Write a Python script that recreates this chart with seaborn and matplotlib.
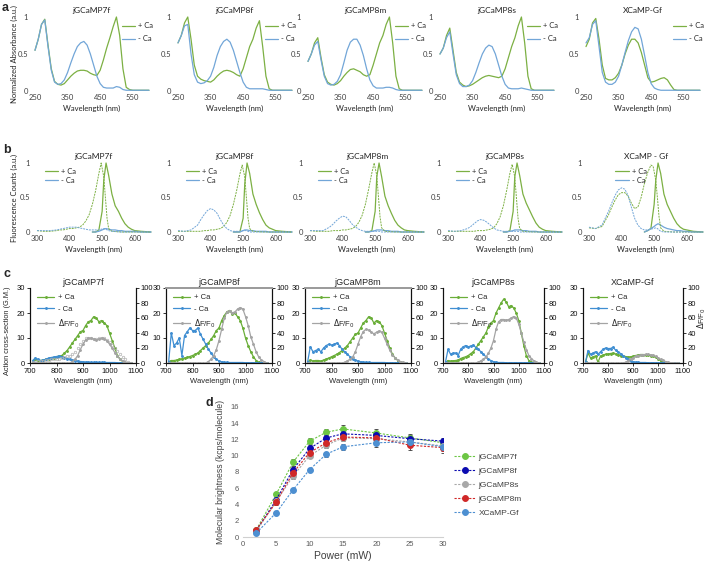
import matplotlib
matplotlib.use('Agg')
import matplotlib.pyplot as plt
import seaborn as sns

W, H = 707, 565

names = ['jGCaMP7f', 'jGCaMP8f', 'jGCaMP8m', 'jGCaMP8s', 'XCaMP-Gf']
names_b = ['jGCaMP7f', 'jGCaMP8f', 'jGCaMP8m', 'jGCaMP8s', 'XCaMP - Gf']

# ---- a: absorbance ----
abs_wl = list(range(250, 601, 10))
tail = [0.01] * 6
abs_plus = {
    'jGCaMP7f': [0.55, 0.70, 0.90, 0.97, 0.62, 0.30, 0.13, 0.09, 0.08, 0.10, 0.15, 0.20, 0.24, 0.27, 0.28, 0.28, 0.27, 0.24,
                 0.22, 0.21, 0.28, 0.42, 0.58, 0.72, 0.87, 1.00, 0.75, 0.30, 0.05, 0.02] + tail,
    'jGCaMP8f': [0.65, 0.75, 0.92, 1.00, 0.70, 0.35, 0.20, 0.16, 0.14, 0.13, 0.12, 0.15, 0.20, 0.24, 0.27, 0.28, 0.27, 0.25,
                 0.22, 0.20, 0.30, 0.45, 0.60, 0.70, 0.85, 0.95, 0.60, 0.20, 0.03, 0.01] + tail,
    'jGCaMP8m': [0.40, 0.50, 0.65, 0.72, 0.45, 0.22, 0.12, 0.09, 0.08, 0.10, 0.14, 0.20, 0.25, 0.29, 0.30, 0.28, 0.26, 0.22,
                 0.20, 0.22, 0.35, 0.50, 0.65, 0.75, 0.90, 1.00, 0.65, 0.20, 0.03, 0.01] + tail,
    'jGCaMP8s': [0.50, 0.58, 0.75, 0.85, 0.55, 0.25, 0.12, 0.08, 0.06, 0.07, 0.09, 0.12, 0.15, 0.18, 0.20, 0.21, 0.20, 0.19,
                 0.18, 0.20, 0.30, 0.45, 0.60, 0.72, 0.88, 1.00, 0.65, 0.20, 0.03, 0.01] + tail,
    'XCaMP-Gf': [0.60, 0.70, 0.92, 0.98, 0.70, 0.35, 0.17, 0.15, 0.15, 0.18, 0.24, 0.35, 0.50, 0.62, 0.70, 0.70, 0.65, 0.52,
                 0.35, 0.18, 0.12, 0.13, 0.15, 0.17, 0.18, 0.15, 0.08, 0.02, 0.01, 0.01] + tail,
}
abs_minus = {
    'jGCaMP7f': [0.55, 0.70, 0.90, 0.96, 0.60, 0.28, 0.12, 0.09, 0.10, 0.15, 0.25, 0.38, 0.50, 0.60, 0.65, 0.67, 0.62, 0.50,
                 0.35, 0.20, 0.10, 0.05, 0.04, 0.04, 0.04, 0.06, 0.05, 0.02, 0.01, 0.01] + tail,
    'jGCaMP8f': [0.65, 0.75, 0.88, 0.90, 0.50, 0.22, 0.12, 0.10, 0.11, 0.14, 0.20, 0.32, 0.48, 0.60, 0.67, 0.70, 0.66, 0.55,
                 0.40, 0.25, 0.12, 0.05, 0.03, 0.03, 0.03, 0.03, 0.03, 0.02, 0.01, 0.01] + tail,
    'jGCaMP8m': [0.40, 0.50, 0.62, 0.67, 0.42, 0.20, 0.10, 0.08, 0.09, 0.13, 0.22, 0.38, 0.55, 0.66, 0.70, 0.70, 0.62, 0.48,
                 0.30, 0.15, 0.07, 0.04, 0.04, 0.04, 0.05, 0.05, 0.04, 0.02, 0.01, 0.01] + tail,
    'jGCaMP8s': [0.50, 0.58, 0.72, 0.80, 0.50, 0.22, 0.10, 0.06, 0.06, 0.08, 0.14, 0.25, 0.38, 0.50, 0.58, 0.62, 0.60, 0.50,
                 0.35, 0.20, 0.09, 0.04, 0.03, 0.03, 0.03, 0.04, 0.03, 0.02, 0.01, 0.01] + tail,
    'XCaMP-Gf': [0.65, 0.72, 0.90, 0.95, 0.60, 0.25, 0.12, 0.09, 0.09, 0.12, 0.20, 0.35, 0.52, 0.68, 0.80, 0.86, 0.84, 0.70,
                 0.48, 0.25, 0.10, 0.04, 0.02, 0.01, 0.01, 0.01, 0.01, 0.01, 0.01, 0.01] + tail,
}

# ---- b: fluorescence excitation (dashed) / emission (solid) ----
ex_wl = [300, 320, 340, 360, 370, 380, 390, 400, 410, 420, 430, 440, 450, 460, 470, 480, 490, 497, 505, 510, 515, 520,
         530, 560, 600, 650]
em_wl = [470, 480, 490, 500, 505, 512, 520, 530, 540, 550, 560, 570, 580, 590, 600, 620, 650]
ex_plus = {
    'jGCaMP7f': [0.02, 0.01, 0.01, 0.02, 0.03, 0.03, 0.04, 0.05, 0.05, 0.06, 0.07, 0.10, 0.16, 0.25, 0.40, 0.60, 0.85, 1.00,
                 0.80, 0.50, 0.20, 0.05, 0.01, 0.00, 0.00, 0.00],
    'jGCaMP8f': [0.01, 0.01, 0.01, 0.01, 0.01, 0.02, 0.02, 0.03, 0.03, 0.04, 0.05, 0.08, 0.14, 0.24, 0.40, 0.60, 0.84, 0.97,
                 0.80, 0.50, 0.20, 0.05, 0.01, 0.00, 0.00, 0.00],
    'jGCaMP8m': [0.02, 0.01, 0.01, 0.01, 0.02, 0.02, 0.02, 0.03, 0.03, 0.04, 0.05, 0.08, 0.14, 0.24, 0.40, 0.62, 0.86, 1.00,
                 0.82, 0.52, 0.22, 0.06, 0.01, 0.00, 0.00, 0.00],
    'jGCaMP8s': [0.01, 0.01, 0.01, 0.01, 0.01, 0.01, 0.02, 0.02, 0.02, 0.03, 0.04, 0.06, 0.12, 0.22, 0.38, 0.60, 0.85, 0.98,
                 0.80, 0.50, 0.20, 0.05, 0.01, 0.00, 0.00, 0.00],
    'XCaMP-Gf': [0.06, 0.05, 0.08, 0.25, 0.36, 0.46, 0.54, 0.57, 0.57, 0.52, 0.42, 0.34, 0.36, 0.50, 0.70, 0.86, 0.97, 0.95,
                 0.75, 0.50, 0.22, 0.06, 0.01, 0.00, 0.00, 0.00],
}
ex_minus = {
    'jGCaMP7f': [0.02, 0.02, 0.02, 0.03, 0.04, 0.05, 0.06, 0.07, 0.07, 0.07, 0.06, 0.05, 0.04, 0.03, 0.03, 0.03, 0.03, 0.04,
                 0.05, 0.05, 0.03, 0.02, 0.01, 0.00, 0.00, 0.00],
    'jGCaMP8f': [0.02, 0.01, 0.03, 0.10, 0.18, 0.25, 0.31, 0.34, 0.32, 0.27, 0.18, 0.10, 0.05, 0.02, 0.01, 0.01, 0.01, 0.02,
                 0.02, 0.02, 0.01, 0.00, 0.00, 0.00, 0.00, 0.00],
    'jGCaMP8m': [0.02, 0.02, 0.02, 0.07, 0.11, 0.16, 0.20, 0.23, 0.22, 0.17, 0.11, 0.07, 0.04, 0.02, 0.01, 0.01, 0.01, 0.01,
                 0.01, 0.01, 0.01, 0.00, 0.00, 0.00, 0.00, 0.00],
    'jGCaMP8s': [0.02, 0.01, 0.02, 0.05, 0.08, 0.12, 0.16, 0.18, 0.17, 0.14, 0.10, 0.06, 0.03, 0.02, 0.01, 0.01, 0.01, 0.01,
                 0.01, 0.01, 0.01, 0.00, 0.00, 0.00, 0.00, 0.00],
    'XCaMP-Gf': [0.07, 0.05, 0.10, 0.30, 0.42, 0.53, 0.61, 0.64, 0.62, 0.53, 0.36, 0.20, 0.10, 0.05, 0.03, 0.03, 0.04, 0.05,
                 0.06, 0.05, 0.03, 0.01, 0.00, 0.00, 0.00, 0.00],
}
em_plus = {
    'jGCaMP7f': [0.00, 0.00, 0.03, 0.30, 0.75, 1.00, 0.82, 0.55, 0.38, 0.30, 0.20, 0.12, 0.07, 0.04, 0.02, 0.01, 0.00],
    'jGCaMP8f': [0.00, 0.00, 0.00, 0.20, 0.70, 1.00, 0.85, 0.55, 0.40, 0.28, 0.18, 0.10, 0.06, 0.04, 0.02, 0.01, 0.00],
    'jGCaMP8m': [0.00, 0.00, 0.02, 0.30, 0.80, 1.00, 0.80, 0.52, 0.38, 0.27, 0.17, 0.10, 0.06, 0.03, 0.02, 0.01, 0.00],
    'jGCaMP8s': [0.00, 0.00, 0.02, 0.30, 0.80, 1.00, 0.82, 0.55, 0.42, 0.32, 0.22, 0.13, 0.07, 0.04, 0.02, 0.01, 0.00],
    'XCaMP-Gf': [0.00, 0.02, 0.05, 0.40, 0.75, 1.00, 0.85, 0.55, 0.40, 0.30, 0.20, 0.12, 0.07, 0.04, 0.03, 0.01, 0.00],
}
em_minus = {
    'jGCaMP7f': [0.00, 0.00, 0.01, 0.03, 0.04, 0.05, 0.04, 0.03, 0.03, 0.02, 0.02, 0.01, 0.01, 0.01, 0.01, 0.00, 0.00],
    'jGCaMP8f': [0.00, 0.00, 0.00, 0.02, 0.03, 0.03, 0.02, 0.02, 0.01, 0.01, 0.01, 0.01, 0.00, 0.00, 0.00, 0.00, 0.00],
    'jGCaMP8m': [0.00, 0.00, 0.01, 0.02, 0.03, 0.03, 0.03, 0.02, 0.02, 0.01, 0.01, 0.01, 0.00, 0.00, 0.00, 0.00, 0.00],
    'jGCaMP8s': [0.00, 0.00, 0.01, 0.02, 0.03, 0.03, 0.03, 0.02, 0.02, 0.01, 0.01, 0.01, 0.00, 0.00, 0.00, 0.00, 0.00],
    'XCaMP-Gf': [0.00, 0.02, 0.05, 0.08, 0.10, 0.12, 0.10, 0.07, 0.05, 0.04, 0.03, 0.02, 0.02, 0.01, 0.01, 0.00, 0.00],
}

# ---- c: two-photon action cross-section (G.M.) and dF/F0 (%) ----
tp_wl = list(range(710, 1081, 10))
tp_plus = {
    'jGCaMP7f': [0.5, 1.5, 1.0, 1.0, 1.2, 1.5, 1.8, 2.0, 2.2, 2.5, 2.8, 3.0, 4.0, 5.0, 6.5, 8.0, 9.5, 11, 12.5, 13,
                 15, 16.5, 17, 18.5, 18, 16.5, 17, 16, 15, 12, 9, 6, 3, 1.5, 0.5, 0.2, 0.1, 0],
    'jGCaMP8f': [0.5, 1.0, 1.0, 1.2, 1.5, 1.7, 2.0, 2.3, 2.6, 3.0, 3.5, 4.0, 5.0, 6.0, 7.0, 8.0, 9.5, 11, 13, 14,
                 17, 19, 20.5, 21, 19.5, 20, 18.5, 17, 14, 10, 7, 4.5, 2.5, 1.0, 0.3, 0.1, 0, 0],
    'jGCaMP8m': [0.5, 1.2, 0.8, 1.0, 1.0, 0.8, 1.2, 1.6, 2.0, 2.5, 3.0, 3.5, 4.2, 5.0, 6.0, 7.0, 8.5, 10, 11.5, 12,
                 14, 16, 17, 18.5, 18, 16, 17, 16.5, 15, 12, 9, 6, 3.5, 2, 1, 0.5, 0.2, 0],
    'jGCaMP8s': [0.3, 1.0, 0.8, 0.9, 1.0, 1.2, 1.8, 2.2, 2.5, 3.0, 3.8, 4.5, 6.0, 7.5, 9, 10.5, 12, 14.5, 16, 17,
                 20, 22, 24, 25.5, 24.5, 22.5, 23, 22, 20, 17, 12, 7, 3, 1, 0.3, 0.1, 0, 0],
    'XCaMP-Gf': [0.3, 4.0, 2.0, 2.5, 2.8, 0.3, 2.8, 3.2, 3.5, 3.6, 3.8, 4.0, 3.6, 3.4, 3.0, 2.8, 2.6, 2.4, 2.5, 2.7,
                 3.0, 3.2, 3.4, 3.4, 3.3, 3.2, 3.0, 2.8, 2.3, 1.6, 1.0, 0.5, 0.2, 0.1, 0, 0, 0, 0],
}
tp_minus = {
    'jGCaMP7f': [1.0, 2.0, 1.5, 1.0, 1.2, 1.5, 2.0, 2.2, 2.4, 2.6, 2.8, 2.5, 2.2, 1.8, 1.5, 1.2, 1.0, 0.8, 0.6, 0.5,
                 0.4, 0.4, 0.3, 0.3, 0.3, 0.3, 0.3, 0.3, 0.2, 0.2, 0.2, 0.2, 0.1, 0.1, 0.1, 0.1, 0.0, 0.0],
    'jGCaMP8f': [0.5, 12, 7, 8, 10, 3, 11, 12.5, 14, 13, 13, 14, 11.5, 9.5, 7.5, 5.5, 4.0, 2.5, 1.5, 0.8,
                 0.5, 0.3, 0.3, 0.2, 0.2, 0.2, 0.2, 0.2, 0.2, 0.1, 0.1, 0.1, 0.1, 0.1, 0.1, 0.1, 0.1, 0.1],
    'jGCaMP8m': [0.5, 6.5, 4.5, 5, 5.5, 4.5, 6, 7, 7.5, 7.2, 7.5, 8, 7, 5.5, 4.5, 3.5, 2.5, 1.8, 1.2, 0.8,
                 0.5, 0.4, 0.3, 0.3, 0.2, 0.2, 0.2, 0.2, 0.2, 0.2, 0.1, 0.1, 0.1, 0.1, 0.1, 0.1, 0.1, 0.1],
    'jGCaMP8s': [0.5, 5.5, 3.5, 4, 4, 3, 5.5, 6.5, 7, 6.5, 6.8, 7.2, 6.2, 5.5, 4.5, 3.5, 2.5, 1.5, 1.0, 0.5,
                 0.3, 0.2, 0.2, 0.2, 0.1, 0.1, 0.1, 0.1, 0.1, 0.1, 0.1, 0.1, 0.1, 0.1, 0.1, 0.1, 0.1, 0.1],
    'XCaMP-Gf': [0.3, 5.0, 3.5, 4.0, 4.5, 3.5, 4.5, 5.5, 6.0, 5.8, 5.8, 6.3, 5.2, 4.5, 3.8, 3.0, 2.2, 1.6, 1.0, 0.6,
                 0.4, 0.3, 0.2, 0.2, 0.2, 0.1, 0.1, 0.1, 0.1, 0.1, 0.1, 0.1, 0.1, 0.1, 0.1, 0.1, 0.1, 0.1],
}
tp_dff = {
    'jGCaMP7f': [0] * 15 + [2, 5, 10, 18, 25, 31, 33, 33, 32, 31, 32, 33, 32, 30, 25, 20, 14, 9, 5, 3, 1, 0, 0],
    'jGCaMP8f': [0] * 15 + [2, 5, 10, 18, 30, 45, 60, 68, 70, 67, 68, 72, 74, 72, 62, 50, 35, 25, 15, 8, 4, 2, 0],
    'jGCaMP8m': [0] * 14 + [1, 3, 5, 8, 15, 25, 35, 42, 45, 44, 41, 39, 41, 43, 41, 33, 25, 17, 11, 7, 4, 2, 1, 0],
    'jGCaMP8s': [0] * 13 + [1, 3, 5, 8, 13, 20, 30, 45, 55, 58, 58, 57, 58, 60, 62, 60, 52, 40, 28, 18, 10, 6, 3,
                            1, 0],
    'XCaMP-Gf': [0] * 16 + [1, 3, 5, 7, 9, 10, 11, 11, 11.5, 11.5, 11, 10.5, 9, 7, 5, 3.5, 2, 1, 0.5, 0.2, 0, 0],
}
# second dF/F0 trace (open grey circles) only in the jGCaMP7f panel
dff_7f_repeat = [2, 2, 3, 3, 3, 4, 4, 5, 5, 5, 6, 7, 8, 9, 10, 12, 15, 20, 26, 30, 33, 34, 33, 32, 32, 33, 34, 33,
                 31, 28, 24, 20, 16, 12, 8, 5, 2, 0]

# ---- d: molecular brightness ----
power = [2, 5, 7.5, 10, 12.5, 15, 20, 25, 30]
d_names = ['jGCaMP7f', 'jGCaMP8f', 'jGCaMP8s', 'jGCaMP8m', 'XCaMP-Gf']
brightness = {
    'jGCaMP7f': [0.9, 5.3, 9.2, 11.8, 12.9, 13.3, 12.8, 12.2, 11.6],
    'jGCaMP8f': [0.8, 4.6, 8.3, 10.9, 12.2, 12.7, 12.5, 12.1, 11.8],
    'jGCaMP8s': [0.7, 4.4, 7.5, 10.0, 11.3, 12.2, 12.1, 11.7, 11.2],
    'jGCaMP8m': [0.9, 4.3, 7.9, 10.4, 11.6, 12.3, 12.2, 11.3, 11.0],
    'XCaMP-Gf': [0.5, 3.0, 5.8, 8.3, 10.2, 11.1, 11.6, 11.7, 11.1],
}
brightness_err = {
    'jGCaMP7f': [0.2, 0.3, 0.4, 0.4, 0.4, 0.5, 0.5, 0.5, 0.4],
    'jGCaMP8f': [0.2, 0.3, 0.3, 0.4, 0.4, 0.4, 0.4, 0.4, 0.4],
    'jGCaMP8s': [0.2, 0.3, 0.3, 0.3, 0.4, 0.4, 0.4, 0.4, 0.4],
    'jGCaMP8m': [0.2, 0.3, 0.3, 0.3, 0.4, 0.4, 0.5, 0.6, 0.6],
    'XCaMP-Gf': [0.1, 0.2, 0.2, 0.2, 0.3, 0.4, 0.5, 0.5, 0.5],
}
d_colors = {'jGCaMP7f': '#6cc644', 'jGCaMP8f': '#0b0bb0', 'jGCaMP8s': '#a8a8a8',
            'jGCaMP8m': '#d02828', 'XCaMP-Gf': '#4d8fd1'}

GREEN = '#7cb043'
BLUE = '#72a6d8'
C_GREEN = '#6aae38'
C_BLUE = '#3f8ed2'
C_GRAY = '#a4a4a4'
TEXT = '#404040'


def px_axes(fig, left, top, width, height):
    return fig.add_axes([left / W, 1 - (top + height) / H, width / W, height / H])


def excel_style(ax, family='Lato'):
    sns.despine(ax=ax, left=True, bottom=True)
    ax.tick_params(length=0, labelsize=5.5, pad=2, colors=TEXT)
    for t in ax.get_xticklabels() + ax.get_yticklabels():
        t.set_family(family)


sns.set_theme(style='white')
plt.rcParams['font.family'] = ['Liberation Sans', 'DejaVu Sans']
fig = plt.figure(figsize=(W / 100, H / 100), dpi=100)

# row a
a_left = [35, 178, 308, 440, 586]
for i, name in enumerate(names):
    ax = px_axes(fig, a_left[i], 17, 114, 74)
    sns.lineplot(x=abs_wl, y=abs_plus[name], ax=ax, color=GREEN, lw=0.9, label='+ Ca')
    sns.lineplot(x=abs_wl, y=abs_minus[name], ax=ax, color=BLUE, lw=0.9, label='- Ca')
    ax.set_xlim(250, 600)
    ax.set_ylim(0, 1)
    ax.set_xticks([250, 350, 450, 550])
    ax.set_yticks([0, 0.5, 1])
    ax.set_yticklabels(['0', '0.5', '1'])
    excel_style(ax)
    ax.tick_params(axis='y', pad=5)
    ax.set_title(name, fontsize=6, pad=3, family='Lato', color='#222222')
    ax.set_xlabel('Wavelength (nm)', fontsize=5.5, labelpad=3, family='Lato', color='#222222')
    ax.set_ylabel('')
    ax.legend(loc='upper left', bbox_to_anchor=(0.74, 0.97), frameon=False,
              handlelength=1.6, handletextpad=0.4, labelspacing=0.8, borderaxespad=0,
              prop={'family': 'Lato', 'size': 5.5})
    for ln in ax.get_lines():
        ln.set_clip_on(False)

# row b
b_left = [37, 178, 310, 448, 589]
for i, name in enumerate(names):
    ax = px_axes(fig, b_left[i], 163, 114, 69)
    sns.lineplot(x=em_wl, y=em_plus[name], ax=ax, color=GREEN, lw=0.9, label='+ Ca')
    sns.lineplot(x=em_wl, y=em_minus[name], ax=ax, color=BLUE, lw=0.9, label='- Ca')
    sns.lineplot(x=ex_wl, y=ex_plus[name], ax=ax, color=GREEN, lw=0.7, linestyle=(0, (2, 1)))
    sns.lineplot(x=ex_wl, y=ex_minus[name], ax=ax, color=BLUE, lw=0.7, linestyle=(0, (2, 1)))
    ax.set_xlim(300, 650)
    ax.set_ylim(0, 1)
    ax.set_xticks([300, 400, 500, 600])
    ax.set_yticks([0, 0.5, 1])
    ax.set_yticklabels(['0', '0.5', '1'])
    excel_style(ax)
    ax.tick_params(axis='y', pad=5)
    ax.set_title(names_b[i], fontsize=6, pad=3, family='Lato', color='#222222')
    ax.set_xlabel('Wavelength (nm)', fontsize=5.5, labelpad=3, family='Lato', color='#222222')
    ax.set_ylabel('')
    anchor_x = 0.2 if i == 4 else 0.04
    ax.legend(loc='upper left', bbox_to_anchor=(anchor_x, 0.97), frameon=False,
              handlelength=1.8, handletextpad=0.4, labelspacing=0.2, borderaxespad=0,
              prop={'family': 'Lato', 'size': 5.5})
    for ln in ax.get_lines():
        ln.set_clip_on(False)

# row c
c_left = [30, 166, 305, 443, 583]
c_width = [106, 106, 106, 101, 100]
for i, name in enumerate(names):
    ax = px_axes(fig, c_left[i], 288, c_width[i], 75)
    ax2 = ax.twinx()
    sns.lineplot(x=tp_wl, y=tp_plus[name], ax=ax, color=C_GREEN, lw=0.9, marker='o', ms=1.3,
                 mec=C_GREEN, label='+ Ca')
    sns.lineplot(x=tp_wl, y=tp_minus[name], ax=ax, color=C_BLUE, lw=0.9, marker='o', ms=1.3,
                 mec=C_BLUE, label='- Ca')
    if name == 'jGCaMP7f':
        sns.lineplot(x=tp_wl, y=dff_7f_repeat, ax=ax2, color='#bdbdbd', lw=0, marker='o', ms=1.8,
                     mfc='none', mec='#b0b0b0', mew=0.5)
    sns.lineplot(x=tp_wl, y=tp_dff[name], ax=ax2, color=C_GRAY, lw=0.9, marker='o', ms=1.3,
                 mec=C_GRAY, label=r'$\Delta$F/F$_0$')
    ax.set_xlim(700, 1100)
    ax.set_ylim(0, 30)
    ax2.set_ylim(0, 100)
    ax.set_xticks([700, 800, 900, 1000, 1100])
    ax.set_yticks([0, 10, 20, 30])
    ax2.set_yticks([0, 20, 40, 60, 80, 100])
    for a in (ax, ax2):
        a.grid(False)
        for side in ('left', 'right', 'bottom'):
            a.spines[side].set_color('#111111')
            a.spines[side].set_linewidth(0.8)
        a.spines['top'].set_visible(False)
        a.set_ylabel('')
    if name in ('jGCaMP8f', 'jGCaMP8m'):
        ax2.spines['top'].set_visible(True)
        ax2.spines['top'].set_color('#9a9a9a')
        ax2.spines['top'].set_linewidth(1.4)
    ax.tick_params(axis='both', direction='out', length=2, width=0.6, labelsize=5.5, pad=1.5,
                   colors='#111111', left=True, bottom=True)
    ax2.tick_params(axis='y', direction='out', length=2, width=0.6, labelsize=5.5, pad=1.5,
                    colors='#111111', right=True)
    ax.set_title(name, fontsize=6.5, pad=2)
    ax.set_xlabel('Wavelength (nm)', fontsize=5.5, labelpad=2)
    h1, l1 = ax.get_legend_handles_labels()
    h2, l2 = ax2.get_legend_handles_labels()
    if ax2.get_legend():
        ax2.get_legend().remove()
    ax.legend(h1 + h2, l1 + l2, loc='upper left', bbox_to_anchor=(0.04, 0.96), frameon=False,
              fontsize=5.5, handlelength=2.2, handletextpad=0.5, labelspacing=0.55, borderaxespad=0)

# row d
ax = px_axes(fig, 243, 407, 200, 130)
for name in d_names:
    col = d_colors[name]
    ax.errorbar(power, brightness[name], yerr=brightness_err[name], fmt='none', ecolor='#3a3a3a',
                elinewidth=0.6, capsize=1.5, capthick=0.6, zorder=1)
    sns.lineplot(x=power, y=brightness[name], ax=ax, color=col, lw=0.8, linestyle=(0, (2, 1.3)),
                 marker='o', ms=4.2, mec=col, label=name, zorder=3)
ax.set_xlim(0, 30)
ax.set_ylim(0, 16)
ax.set_xticks(range(0, 31, 5))
ax.set_yticks(range(0, 17, 2))
sns.despine(ax=ax, left=True)
ax.spines['bottom'].set_color('#d0d0d0')
ax.spines['bottom'].set_linewidth(0.8)
ax.tick_params(length=0, labelsize=5.5, pad=3, colors='#595959')
ax.set_xlabel('Power (mW)', fontsize=7.5, labelpad=2, color='#404040')
ax.set_ylabel('Molecular brightness (kcps/molecule)', fontsize=6.2, labelpad=4, color='#404040')
ax.legend(loc='center left', bbox_to_anchor=(1.04, 0.4), frameon=False, fontsize=6,
          handlelength=2.6, handletextpad=0.3, labelspacing=0.75, borderaxespad=0,
          labelcolor='#404040')

# labels
fig.text(2 / W, 1 - 8 / H, 'a', fontsize=9, fontweight='bold', va='center', ha='left')
fig.text(3 / W, 1 - 150 / H, 'b', fontsize=9, fontweight='bold', va='center', ha='left')
fig.text(3 / W, 1 - 274 / H, 'c', fontsize=9, fontweight='bold', va='center', ha='left')
fig.text(206 / W, 1 - 403 / H, 'd', fontsize=9, fontweight='bold', va='center', ha='left')
fig.text(14 / W, 1 - 54 / H, 'Normalized Absorbance (a.u.)', rotation=90, fontsize=5.5,
         va='center', ha='center', family='Lato', color='#222222')
fig.text(14 / W, 1 - 198 / H, 'Fluorescence Counts (a.u.)', rotation=90, fontsize=5.5,
         va='center', ha='center', family='Lato', color='#222222')
fig.text(8 / W, 1 - 331 / H, 'Action cross-section (G.M.)', rotation=90, fontsize=5.3,
         va='center', ha='center')
fig.text(702 / W, 1 - 318 / H, r'$\Delta$F/F$_0$', rotation=90, fontsize=5.5,
         va='center', ha='center')

fig.savefig('out.png', dpi=100)
